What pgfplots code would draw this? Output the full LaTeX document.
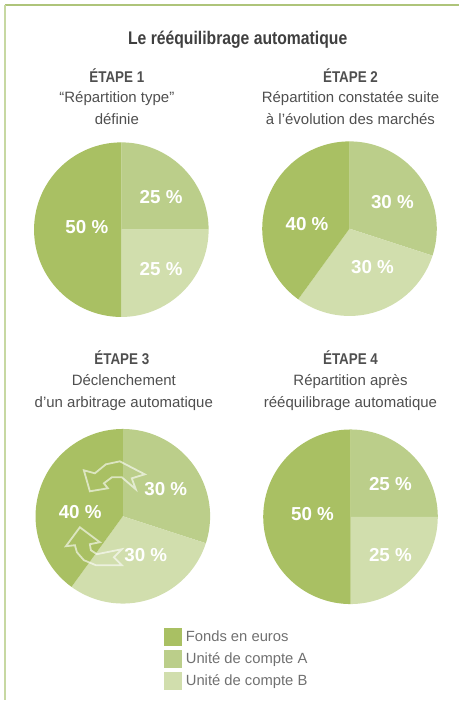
\documentclass[border=0pt]{standalone}
\usepackage{fontspec}
\setmainfont{Liberation Sans}
\newfontfamily\condfont{Liberation Sans}[FakeStretch=0.86]
\usepackage{pgfplots}
\pgfplotsset{compat=1.18}
\definecolor{cF}{HTML}{A9C063}
\definecolor{cA}{HTML}{BBCE8A}
\definecolor{cB}{HTML}{D1DEAD}
\definecolor{frameTop}{HTML}{AEC47A}
\definecolor{frameLeft}{HTML}{C7D8A2}
\definecolor{titlegray}{HTML}{3F3F3F}
\definecolor{bodygray}{HTML}{4F4F4F}
\definecolor{leggray}{HTML}{707070}

% #1,#2 centre, #3 fonds en euros, #4 UC A, #5 UC B (percent)
\newcommand{\pie}[5]{%
 \addplot[fill=cA, draw=none, forget plot, domain=90-3.6*(#4):90, samples=90, variable=\t]
   ({#1+87.4*cos(\t)},{#2+87.4*sin(\t)}) -- (axis cs:#1,#2) -- cycle;
 \addplot[fill=cB, draw=none, forget plot, domain=90-3.6*(#4+#5):90-3.6*(#4), samples=90, variable=\t]
   ({#1+87.4*cos(\t)},{#2+87.4*sin(\t)}) -- (axis cs:#1,#2) -- cycle;
 \addplot[fill=cF, draw=none, forget plot, domain=90-3.6*(#3+#4+#5):90-3.6*(#4+#5), samples=120, variable=\t]
   ({#1+87.4*cos(\t)},{#2+87.4*sin(\t)}) -- (axis cs:#1,#2) -- cycle;
}
\newcommand{\pct}[3]{\node[anchor=center, text=white, font=\fontsize{18.8}{20}\selectfont\bfseries] at (axis cs:#1,#2) {#3};}
\newcommand{\stage}[3]{\node[anchor=base, text=bodygray, font=\condfont\fontsize{15.6}{18}\selectfont\bfseries] at (axis cs:#1,#2) {#3};}
\newcommand{\body}[3]{\node[anchor=base, text=bodygray, font=\fontsize{15}{18}\selectfont] at (axis cs:#1,#2) {#3};}

\begin{document}
\begin{tikzpicture}
\begin{axis}[
  x=1pt, y=1pt, xmin=0, xmax=460, ymin=0, ymax=701,
  hide axis, clip=false,
  legend style={at={(axis cs:164,72)}, anchor=north west, draw=none, fill=none,
    inner sep=0pt, outer sep=0pt, row sep=5.2pt, column sep=0pt,
    font=\fontsize{14.8}{16}\selectfont, text=leggray,
    nodes={inner sep=0pt, outer sep=0pt}},
  legend cell align=left,
]
\path (axis cs:0,0) rectangle (axis cs:460,701);

% frame
\addplot[frameTop, line width=2pt, forget plot] coordinates {(5,696) (460,696)};
\addplot[frameLeft, line width=2pt, forget plot] coordinates {(5.5,696) (5.5,0)};

% pies: centre x, centre y, fonds, UC A, UC B
\pie{121.5}{471}{50}{25}{25}
\pie{350}{472}{40}{30}{30}
\pie{123}{184}{40}{30}{30}
\pie{351}{183.5}{50}{25}{25}

% arrows on stage 3
\addplot[draw=white, draw opacity=0.6, line width=1.8pt, forget plot] coordinates {
 (90,209) (84,230) (95,227) (106,236) (120,239) (145,226) (132,222) (136,211) (122,223) (112,223) (104,217) (108,212)} -- cycle;
\addplot[draw=white, draw opacity=0.6, line width=1.8pt, forget plot] coordinates {
 (80,173) (100,158) (90,156) (91,150) (97,146) (122,151) (114,143) (122,135) (96,135) (84,140) (77,148) (75,155) (66,154)} -- cycle;

% percentage labels
\pct{87}{474}{50 \%}
\pct{161.3}{503.3}{25 \%}
\pct{161.3}{431.7}{25 \%}
\pct{307.5}{477}{40 \%}
\pct{393}{499}{30 \%}
\pct{373}{434}{30 \%}
\pct{80.3}{188}{40 \%}
\pct{166}{211.4}{30 \%}
\pct{146}{145.3}{30 \%}
\pct{313}{186}{50 \%}
\pct{391}{216}{25 \%}
\pct{391}{145}{25 \%}

% titles
\node[anchor=base, text=titlegray, font=\condfont\fontsize{18.3}{20}\selectfont\bfseries] at (axis cs:238,656.7) {Le rééquilibrage automatique};
\stage{117}{618.3}{ÉTAPE 1}
\body{117}{598.3}{“Répartition type”}
\body{117}{576.7}{définie}
\stage{351}{618.3}{ÉTAPE 2}
\body{351}{598.3}{Répartition constatée suite}
\body{351}{576.7}{à l’évolution des marchés}
\stage{122}{336}{ÉTAPE 3}
\body{124}{314.5}{Déclenchement}
\body{124}{293}{d’un arbitrage automatique}
\stage{351}{336}{ÉTAPE 4}
\body{351}{314.5}{Répartition après}
\body{351}{293}{rééquilibrage automatique}

% legend
\addlegendimage{legend image code/.code={\fill[cF] (0pt,-8.3pt) rectangle (17pt,8.3pt);}}
\addlegendentry{\hspace{4.7pt}Fonds en euros}
\addlegendimage{legend image code/.code={\fill[cA] (0pt,-8.3pt) rectangle (17pt,8.3pt);}}
\addlegendentry{\hspace{4.7pt}Unité de compte A}
\addlegendimage{legend image code/.code={\fill[cB] (0pt,-8.3pt) rectangle (17pt,8.3pt);}}
\addlegendentry{\hspace{4.7pt}Unité de compte B}
\end{axis}
\end{tikzpicture}
\end{document}
